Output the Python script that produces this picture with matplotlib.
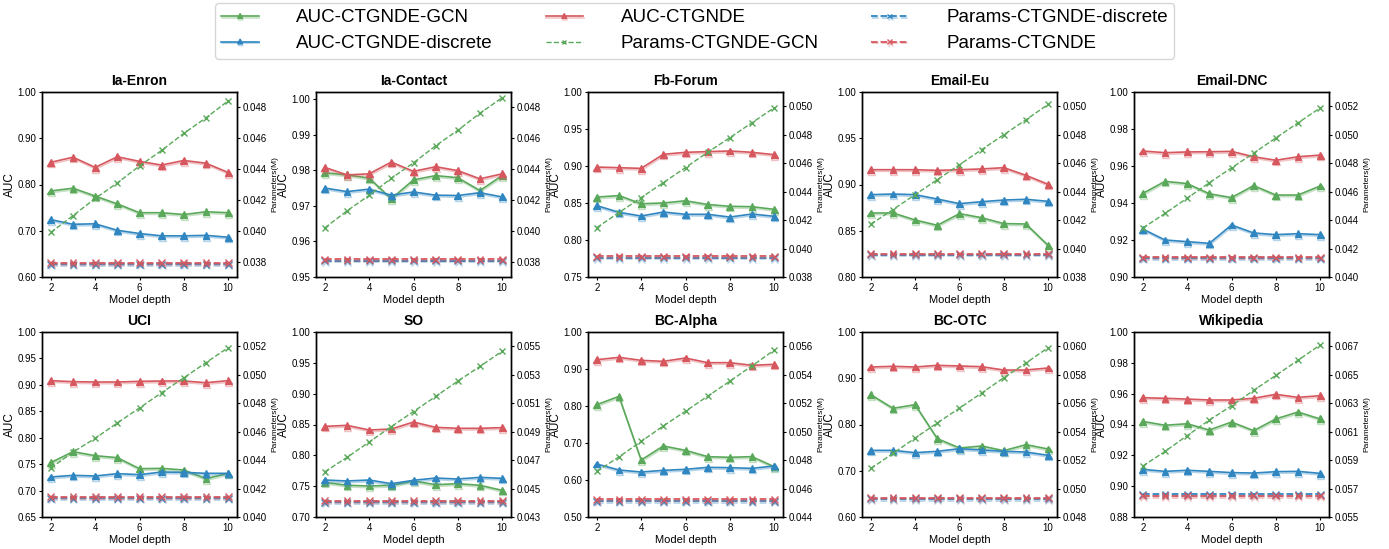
import matplotlib
matplotlib.use("Agg")
import matplotlib.pyplot as plt
import matplotlib.patheffects as pe
from matplotlib.ticker import FormatStrFormatter

plt.rcParams['font.family'] = ['Liberation Sans', 'DejaVu Sans']

# ---- data ----
depths = [2, 3, 4, 5, 6, 7, 8, 9, 10]
datasets = ["Ia-Enron", "Ia-Contact", "Fb-Forum", "Email-Eu", "Email-DNC",
            "UCI", "SO", "BC-Alpha", "BC-OTC", "Wikipedia"]

auc_gcn = {
    "Ia-Enron":   [0.786, 0.792, 0.775, 0.758, 0.739, 0.739, 0.735, 0.741, 0.739],
    "Ia-Contact": [0.9793, 0.9787, 0.9778, 0.9720, 0.9773, 0.9785, 0.9779, 0.9743, 0.9785],
    "Fb-Forum":   [0.858, 0.860, 0.849, 0.850, 0.853, 0.848, 0.8455, 0.845, 0.8414],
    "Email-Eu":   [0.8692, 0.8692, 0.8616, 0.8559, 0.8685, 0.8641, 0.8577, 0.8573, 0.8342],
    "Email-DNC":  [0.9452, 0.9517, 0.9505, 0.9450, 0.9429, 0.9494, 0.9443, 0.9443, 0.9492],
    "UCI":        [0.753, 0.7736, 0.766, 0.7622, 0.7414, 0.742, 0.7389, 0.7225, 0.7326],
    "SO":         [0.7562, 0.7514, 0.7503, 0.7514, 0.7584, 0.7524, 0.754, 0.7514, 0.7432],
    "BC-Alpha":   [0.8036, 0.8261, 0.654, 0.6919, 0.6802, 0.6631, 0.6613, 0.6631, 0.636],
    "BC-OTC":     [0.8645, 0.835, 0.8429, 0.7694, 0.7492, 0.7535, 0.7434, 0.7564, 0.747],
    "Wikipedia":  [0.942, 0.9395, 0.9405, 0.9364, 0.9416, 0.936, 0.9436, 0.9481, 0.9436],
}
auc_disc = {
    "Ia-Enron":   [0.724, 0.714, 0.715, 0.701, 0.694, 0.689, 0.689, 0.690, 0.686],
    "Ia-Contact": [0.9750, 0.9740, 0.9747, 0.9730, 0.9739, 0.9730, 0.9729, 0.9737, 0.9725],
    "Fb-Forum":   [0.8464, 0.8374, 0.8324, 0.8378, 0.8347, 0.8347, 0.831, 0.8351, 0.832],
    "Email-Eu":   [0.889, 0.8897, 0.889, 0.8843, 0.8793, 0.8814, 0.8832, 0.884, 0.8818],
    "Email-DNC":  [0.9259, 0.9200, 0.9191, 0.9182, 0.9281, 0.9238, 0.9229, 0.9234, 0.9229],
    "UCI":        [0.7257, 0.7288, 0.7276, 0.732, 0.7301, 0.7351, 0.7345, 0.7326, 0.7326],
    "SO":         [0.760, 0.7584, 0.760, 0.754, 0.7595, 0.7632, 0.7616, 0.7643, 0.7627],
    "BC-Alpha":   [0.6432, 0.627, 0.6216, 0.6261, 0.6288, 0.6342, 0.6333, 0.6315, 0.6378],
    "BC-OTC":     [0.7441, 0.7441, 0.7391, 0.742, 0.7477, 0.7449, 0.742, 0.7405, 0.7333],
    "Wikipedia":  [0.9109, 0.9096, 0.9103, 0.9096, 0.9088, 0.9085, 0.9094, 0.9096, 0.9083],
}
auc_ctg = {
    "Ia-Enron":   [0.848, 0.859, 0.837, 0.860, 0.850, 0.842, 0.852, 0.846, 0.826],
    "Ia-Contact": [0.9808, 0.9787, 0.9790, 0.9823, 0.9797, 0.9810, 0.9799, 0.9776, 0.9790],
    "Fb-Forum":   [0.8986, 0.8977, 0.8968, 0.9158, 0.9185, 0.9194, 0.9203, 0.9185, 0.9153],
    "Email-Eu":   [0.916, 0.916, 0.916, 0.9153, 0.916, 0.9168, 0.9182, 0.9099, 0.9002],
    "Email-DNC":  [0.9681, 0.9672, 0.9676, 0.9677, 0.9679, 0.965, 0.9631, 0.965, 0.9659],
    "UCI":        [0.9079, 0.906, 0.9054, 0.9054, 0.9066, 0.9073, 0.9073, 0.9041, 0.9079],
    "SO":         [0.847, 0.8486, 0.8411, 0.8427, 0.854, 0.8454, 0.8438, 0.8438, 0.8449],
    "BC-Alpha":   [0.9252, 0.9315, 0.9234, 0.9207, 0.9297, 0.9171, 0.9171, 0.9099, 0.9126],
    "BC-OTC":     [0.9243, 0.9258, 0.9243, 0.9279, 0.9265, 0.925, 0.9178, 0.9178, 0.9222],
    "Wikipedia":  [0.9574, 0.957, 0.9565, 0.9559, 0.9559, 0.957, 0.9596, 0.9576, 0.9587],
}
params_gcn = {
    "Ia-Enron":   [0.03991, 0.04099, 0.0421, 0.0431, 0.0442, 0.0452, 0.0463, 0.0473, 0.0484],
    "Ia-Contact": [0.0402, 0.0413, 0.0423, 0.0434, 0.0444, 0.0455, 0.0465, 0.0476, 0.0486],
    "Fb-Forum":   [0.04147, 0.04253, 0.04358, 0.04463, 0.04569, 0.04676, 0.04779, 0.04884, 0.04989],
    "Email-Eu":   [0.04171, 0.04274, 0.04379, 0.04484, 0.04589, 0.04695, 0.048, 0.04905, 0.05013],
    "Email-DNC":  [0.04344, 0.04447, 0.04554, 0.04662, 0.04767, 0.0487, 0.04977, 0.05083, 0.05188],
    "UCI":        [0.04344, 0.04456, 0.04553, 0.04661, 0.04766, 0.04874, 0.04978, 0.05085, 0.0519],
    "SO":         [0.04618, 0.04719, 0.04827, 0.04935, 0.05041, 0.05147, 0.05255, 0.05358, 0.05465],
    "BC-Alpha":   [0.0472, 0.04823, 0.04931, 0.0504, 0.05143, 0.05249, 0.05354, 0.05462, 0.05572],
    "BC-OTC":     [0.05141, 0.05247, 0.05355, 0.05461, 0.05565, 0.05671, 0.05779, 0.05882, 0.0599],
    "Wikipedia":  [0.05858, 0.05961, 0.06072, 0.06181, 0.06281, 0.0639, 0.06495, 0.06601, 0.06709],
}
params_disc = {
    "Ia-Enron":   [0.03785] * 9,
    "Ia-Contact": [0.03809] * 9,
    "Fb-Forum":   [0.03935] * 9,
    "Email-Eu":   [0.03956] * 9,
    "Email-DNC":  [0.04131] * 9,
    "UCI":        [0.04132] * 9,
    "SO":         [0.04403] * 9,
    "BC-Alpha":   [0.0451] * 9,
    "BC-OTC":     [0.04927] * 9,
    "Wikipedia":  [0.0566] * 9,
}
params_ctg = {
    "Ia-Enron":   [0.03794] * 9,
    "Ia-Contact": [0.03817] * 9,
    "Fb-Forum":   [0.03946] * 9,
    "Email-Eu":   [0.03965] * 9,
    "Email-DNC":  [0.0414] * 9,
    "UCI":        [0.04141] * 9,
    "SO":         [0.04413] * 9,
    "BC-Alpha":   [0.04523] * 9,
    "BC-OTC":     [0.04937] * 9,
    "Wikipedia":  [0.05648] * 9,
}

# ---- axis settings: (ymin, ymax, tick step) ----
left_axis = {
    "Ia-Enron": (0.60, 1.00, 0.10), "Ia-Contact": (0.95, 1.002, 0.01),
    "Fb-Forum": (0.75, 1.00, 0.05), "Email-Eu": (0.80, 1.00, 0.05),
    "Email-DNC": (0.90, 1.00, 0.02), "UCI": (0.65, 1.00, 0.05),
    "SO": (0.70, 1.00, 0.05), "BC-Alpha": (0.50, 1.00, 0.10),
    "BC-OTC": (0.60, 1.00, 0.10), "Wikipedia": (0.88, 1.00, 0.02),
}
# (ymin, ymax, first tick, last tick)
right_axis = {
    "Ia-Enron": (0.03703, 0.04897, 0.038, 0.048),
    "Ia-Contact": (0.03703, 0.04897, 0.038, 0.048),
    "Fb-Forum": (0.038, 0.051, 0.038, 0.050),
    "Email-Eu": (0.038, 0.051, 0.038, 0.050),
    "Email-DNC": (0.040, 0.053, 0.040, 0.052),
    "UCI": (0.040, 0.053, 0.040, 0.052),
    "SO": (0.043, 0.056, 0.043, 0.055),
    "BC-Alpha": (0.044, 0.057, 0.044, 0.056),
    "BC-OTC": (0.048, 0.061, 0.048, 0.060),
    "Wikipedia": (0.055, 0.068, 0.055, 0.067),
}

GREEN = "#5aa85a"
BLUE = "#2f86c0"
RED = "#d6575e"


def shadow(c):
    return [pe.SimpleLineShadow(offset=(0.4, -1.2), shadow_color=c, alpha=0.35),
            pe.Normal()]


W, H = 1389, 549
fig = plt.figure(figsize=(W / 100, H / 100), dpi=100)
lefts = [42, 316, 588, 862, 1134]
tops = [92, 332]
aw, ah = 195, 185

handles = []
for i, name in enumerate(datasets):
    r, c = divmod(i, 5)
    ax = fig.add_axes([lefts[c] / W, 1 - (tops[r] + ah) / H, aw / W, ah / H])
    ax2 = ax.twinx()

    l1, = ax.plot(depths, auc_gcn[name], color=GREEN, marker='^', ms=5, lw=1.2,
                  path_effects=shadow(GREEN), label='AUC-CTGNDE-GCN')
    l2, = ax.plot(depths, auc_disc[name], color=BLUE, marker='^', ms=5, lw=1.2,
                  path_effects=shadow(BLUE), label='AUC-CTGNDE-discrete')
    l3, = ax.plot(depths, auc_ctg[name], color=RED, marker='^', ms=5, lw=1.2,
                  path_effects=shadow(RED), label='AUC-CTGNDE')
    l4, = ax2.plot(depths, params_gcn[name], color=GREEN, marker='x', ms=5, lw=1.0,
                   ls='--', label='Params-CTGNDE-GCN')
    l5, = ax2.plot(depths, params_disc[name], color=BLUE, marker='x', ms=5, lw=1.3,
                   ls='--', path_effects=shadow(BLUE), label='Params-CTGNDE-discrete')
    l6, = ax2.plot(depths, params_ctg[name], color=RED, marker='x', ms=5, lw=1.3,
                   ls='--', path_effects=shadow(RED), label='Params-CTGNDE')
    if i == 0:
        handles = [l1, l2, l3, l4, l5, l6]

    lo, hi, step = left_axis[name]
    ax.set_ylim(lo, hi)
    n = int(round((min(hi, 1.0) - lo) / step))
    ax.set_yticks([lo + k * step for k in range(n + 1)])
    ax.yaxis.set_major_formatter(FormatStrFormatter('%.2f'))
    rlo, rhi, t0, t1 = right_axis[name]
    ax2.set_ylim(rlo, rhi)
    m = int(round((t1 - t0) / 0.002))
    ax2.set_yticks([t0 + k * 0.002 for k in range(m + 1)])
    ax2.yaxis.set_major_formatter(FormatStrFormatter('%.3f'))

    ax.set_xticks([2, 4, 6, 8, 10])
    ax.set_xlim(1.6, 10.4)
    for a in (ax, ax2):
        a.tick_params(labelsize=7, length=2.5, pad=1.5, width=0.8)
        for s in a.spines.values():
            s.set_linewidth(1.0)
    ax.set_title(name, fontsize=10, fontweight='bold', pad=5)
    ax.set_xlabel('Model depth', fontsize=8, labelpad=2)
    ax.set_ylabel('AUC', fontsize=8.5, labelpad=1)
    ax2.set_ylabel('Parameters(M)', fontsize=6, labelpad=3)

fig.legend(handles=handles, loc='upper center', bbox_to_anchor=(0.5, 1.0),
           ncol=3, fontsize=13.5, markerscale=0.7, handlelength=2.0,
           handletextpad=2.0, columnspacing=2.8, labelspacing=0.45,
           borderpad=0.35, borderaxespad=0.15)

fig.savefig('out.png', dpi=100)
